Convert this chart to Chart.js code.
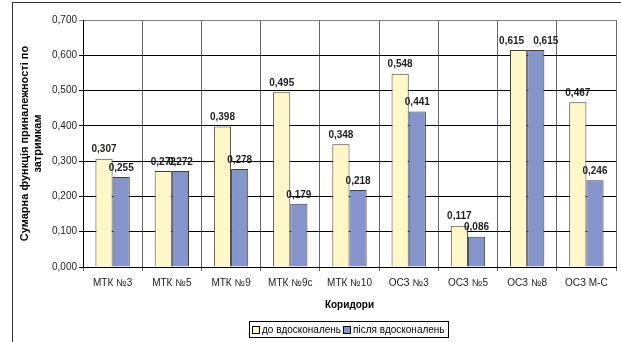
<!DOCTYPE html>
<html>
<head>
<meta charset="utf-8">
<script src="https://cdn.jsdelivr.net/npm/chart.js@4"></script>
<style>
    body { margin: 0; background: #fff; font-family: "Liberation Sans", Arial, sans-serif; }
    #wrap { position: relative; width: 621px; height: 342px; overflow: hidden; }
    #frame { position: absolute; left: 12px; top: 2px; width: 700px; height: 400px; border: 1px solid #333; }
    #legend { position: absolute; left: 249px; top: 321px; width: 198px; height: 15px; border: 1px solid #000;
              font-size: 10px; color: #000; display: flex; align-items: center; white-space: nowrap; }
    #legend .sw { display: inline-block; width: 6px; height: 6px; border: 1px solid #000; margin: 0 2px 0 2px; }
</style>
</head>
<body>
<div id="wrap">
    <div id="frame"></div>
    <canvas id="chart" width="621" height="342"></canvas>
    <div id="legend"></div>
</div>
<script>
// Corridors and membership function values
const corridors = ["МТК №3", "МТК №5", "МТК №9", "МТК №9с", "МТК №10", "ОСЗ №3", "ОСЗ №5", "ОСЗ №8", "ОСЗ М-С"];
const beforeValues = [0.307, 0.272, 0.398, 0.495, 0.348, 0.548, 0.117, 0.615, 0.467];
const afterValues = [0.255, 0.272, 0.278, 0.179, 0.218, 0.441, 0.086, 0.615, 0.246];
const seriesNames = ["до вдосконалень", "після вдосконалень"];
const seriesColors = ["#FFF7C8", "#8595CC"];

const fmt = v => v.toFixed(3).replace('.', ',');

// Value labels above each bar (the ОСЗ №8 pair is pushed apart like in the original)
const barLabels = {
    id: 'barLabels',
    afterDatasetsDraw(chart) {
        const ctx = chart.ctx;
        ctx.save();
        ctx.font = 'bold 10px "Liberation Sans", Arial, sans-serif';
        ctx.fillStyle = '#222';
        ctx.textAlign = 'center';
        ctx.textBaseline = 'bottom';
        chart.data.datasets.forEach((ds, i) => {
            chart.getDatasetMeta(i).data.forEach((bar, j) => {
                let dx = 0;
                if (j === 7) dx = i === 0 ? -7 : 10;
                ctx.fillText(fmt(ds.data[j]), bar.x + dx, bar.y - 4);
            });
        });
        ctx.restore();
    }
};

new Chart(document.getElementById('chart'), {
    type: 'bar',
    data: {
        labels: corridors,
        datasets: [
            { label: seriesNames[0], data: beforeValues, backgroundColor: seriesColors[0], borderColor: '#404040', borderWidth: 1 },
            { label: seriesNames[1], data: afterValues, backgroundColor: seriesColors[1], borderColor: '#404040', borderWidth: 1 }
        ]
    },
    options: {
        responsive: false,
        animation: false,
        layout: { padding: { left: 12, top: 20, right: 5, bottom: 0 } },
        datasets: { bar: { categoryPercentage: 0.58, barPercentage: 1 } },
        plugins: { legend: { display: false }, tooltip: { enabled: false } },
        scales: {
            x: {
                afterFit: s => { s.height = 75; },
                grid: { color: '#666', tickLength: 4, offset: true },
                border: { color: '#000' },
                ticks: { color: '#222', padding: 6, font: { size: 10, family: '"Liberation Sans", Arial' }, maxRotation: 0 },
                title: { display: true, text: 'Коридори', color: '#000', padding: { bottom: 31 },
                         font: { size: 10, weight: 'bold', family: '"Liberation Sans", Arial' } }
            },
            y: {
                min: 0, max: 0.7,
                afterFit: s => { s.width = 71; },
                grid: { color: (c) => c.tick && c.tick.value >= 0.7 ? '#808080' : '#000', tickLength: 4 },
                border: { color: '#000' },
                ticks: { stepSize: 0.1, color: '#222', padding: 2, callback: v => fmt(v),
                         font: { size: 10, family: '"Liberation Sans", Arial' } },
                title: { display: true, text: ['Сумарна функція приналежності по', 'затримкам'], color: '#000',
                         padding: { top: 6 }, font: { size: 11, weight: 'bold', family: '"Liberation Sans", Arial' } }
            }
        }
    },
    plugins: [barLabels]
});

// HTML legend with border, like the original
document.getElementById('legend').innerHTML = seriesNames.map((n, i) =>
    `<span class="sw" style="background:${seriesColors[i]}"></span><span>${n}</span>`).join('');
</script>
</body>
</html>
